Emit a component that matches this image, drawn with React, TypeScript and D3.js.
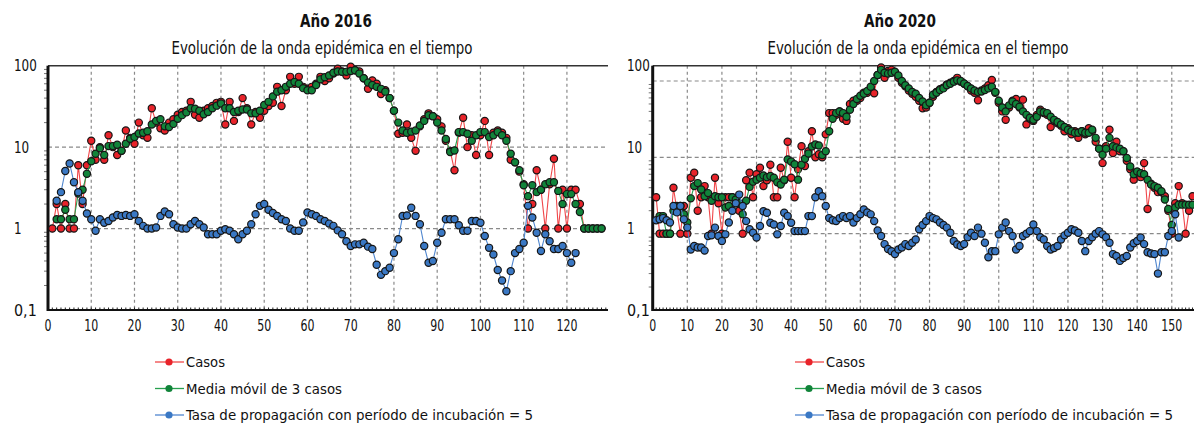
import React, { useEffect, useRef } from 'react'
import * as d3 from 'd3'

// ---- data ----
// 2016: casos from day 1, media movil from day 2, tasa from day 2
const casos2016 = [
    1, 2, 1, 2, 1, 1, 6, 2, 6, 12,
    7, 10, 7, 14, 10, 8, 9, 16, 13, 11,
    20, 14, 13, 30, 20, 17, 16, 20, 22, 25,
    27, 28, 36, 25, 23, 28, 30, 32, 35, 36,
    19, 36, 21, 27, 40, 30, 19, 27, 23, 28,
    32, 35, 55, 32, 50, 73, 60, 73, 55, 52,
    55, 60, 73, 65, 70, 80, 92, 85, 76, 97,
    88, 85, 70, 52, 66, 60, 45, 50, 40, 28,
    14.6, 15, 19, 13, 9, 18, 22, 26, 24, 22,
    18, 12, 9, 5.2, 15, 23, 10, 14, 8, 14,
    21, 8, 15, 16, 15, 13, 7, 6.5, 5, 3.5,
    1, 2, 5.2, 3, 1, 3.5, 7.2, 1, 3, 1,
    3, 3, 2, 1, 1, 1, 1, 1
];
const media2016 = [
    1.3, 1.3, 1.7, 1.3, 1.3, 2.7, 3, 4.7, 6.7,
    8.3, 9.7, 8, 10.3, 10.3, 10.7, 9, 11, 12.7, 13.3,
    14.7, 15, 15.7, 19, 21, 22, 18, 17.7, 19.3, 22.3,
    24.7, 26.7, 30, 29.7, 28, 25.3, 27, 30, 32.3, 34.3,
    30, 30, 27, 28, 29, 29, 26, 26, 28, 33,
    36, 42, 48, 50, 55, 60, 63, 60, 53, 50,
    50, 58, 68, 72, 76, 82, 85, 84, 84, 86,
    88, 80, 70, 62, 58, 55, 52, 48, 40, 28,
    20, 16, 15, 15.5, 16, 18.5, 21, 24.6, 24, 20,
    16, 12.6, 8.7, 9.1, 15.3, 15.3, 14.6, 12, 14, 15.3,
    15.3, 13.3, 14, 15.3, 14, 12, 8.3, 6.5, 5.2, 3.4,
    2.5, 3.4, 2.8, 3.0, 3.5, 3.7, 3.7, 2.9, 2.0, 2.65,
    2.65, 2.0, 1.6, 1, 1, 1, 1, 1
];
const tasa2016 = [
    2.2, 2.8, 5.1, 6.3, 3.7, 2.8, 2.2, 1.53, 1.3,
    0.94, 1.3, 1.18, 1.24, 1.37, 1.47, 1.43, 1.47, 1.43, 1.5,
    1.24, 1.08, 1.0, 1.0, 1.03, 1.43, 1.62, 1.5, 1.13, 1.03,
    1.0, 1.0, 1.13, 1.24, 1.13, 1.03, 0.85, 0.85, 0.85, 0.94,
    0.98, 0.94, 0.85, 0.74, 0.85, 0.94, 1.13, 1.5, 1.9, 2.0,
    1.7, 1.55, 1.43, 1.3, 1.24, 1.0, 0.94, 0.94, 1.19, 1.58,
    1.5, 1.43, 1.3, 1.24, 1.15, 1.08, 0.95, 0.85, 0.7, 0.61,
    0.64, 0.64, 0.67, 0.6, 0.56, 0.36, 0.27, 0.3, 0.33, 0.5,
    0.74, 1.43, 1.45, 1.8, 1.43, 1.13, 0.61, 0.38, 0.4, 0.67,
    0.89, 1.3, 1.3, 1.3, 1.1, 0.94, 0.94, 1.24, 1.24, 1.18,
    0.81, 0.58, 0.48, 0.31, 0.23, 0.17, 0.3, 0.5, 0.56, 0.67,
    1.9, 1.37, 0.89, 0.53, 0.85, 0.7, 0.56, 0.56, 0.61, 0.5,
    0.38, 0.5
];

// 2020: casos from day 1, media movil from day 2, tasa from day 1
const casos2020 = [
    3, 1, 1, 1, 1, 4, 2, 1, 2.3, 1,
    5.4, 6.3, 2, 3, 4.2, 3, 1, 5.4, 2.5, 1,
    3, 3, 3, 2.5, 2, 1, 5, 6.3, 3, 6,
    7.3, 4.2, 5, 8, 3, 3, 7.3, 5, 16, 5.4,
    3, 7, 14, 7.7, 12, 22, 10, 11, 10, 20,
    38, 38, 36, 40, 32, 30, 50, 55, 55, 60,
    70, 70, 80, 69, 120, 150, 110, 135, 140, 130,
    110, 95, 85, 75, 68, 62, 55, 44, 45, 52,
    62, 72, 78, 82, 90, 95, 100, 110, 98, 92,
    85, 75, 70, 56, 75, 80, 88, 103, 70, 52,
    40, 31, 45, 55, 58, 45, 57, 27, 32, 30,
    36, 42, 38, 36, 25, 30, 28, 26, 22, 24,
    20, 22, 18, 22, 20, 24, 22, 16, 13, 8.4,
    14, 23, 11.4, 16, 12, 12, 9, 7, 5.1, 6.5,
    5.5, 8.4, 2.1, 4.5, 4, 3.5, 3.5, 3.1, 2, 1,
    2.5, 4.2, 2.5, 1, 2, 3.1
];
const media2020 = [
    1.7, 1.7, 1, 1, 2, 2.3, 2.3, 1.8, 1.4,
    2.9, 4.2, 4.6, 3.8, 3.1, 3.4, 2.7, 3.1, 3, 3,
    2.2, 2.3, 3, 2.8, 2.5, 1.8, 2.7, 4.1, 4.8, 5.1,
    5.4, 5.8, 5.5, 5.7, 5.4, 4.7, 4.4, 5.1, 9.4, 8.8,
    8.1, 5.1, 8, 9.6, 11.2, 13.9, 14.7, 14.3, 10.7, 12,
    22, 32, 38, 40, 38, 34, 42, 50, 58, 64,
    68, 74, 84, 100, 120, 140, 128, 125, 128, 132,
    118, 100, 88, 80, 72, 68, 60, 54, 48, 52,
    66, 70, 76, 80, 88, 92, 98, 102, 100, 93,
    86, 80, 75, 72, 73, 76, 80, 84, 72, 55,
    45, 40, 48, 54, 50, 46, 40, 36, 33, 31,
    34, 40, 39, 38, 34, 31, 29, 27, 25, 23,
    22, 21, 21, 22, 21, 21, 23, 18, 13, 10.8,
    13, 18, 14, 13.5, 13, 12, 9.8, 7.6, 6, 6.5,
    6.2, 6, 5.1, 4.4, 4.2, 4, 3.6, 2.8, 2.1, 1.3,
    2.2, 2.4, 2.4, 2.4, 2.4, 2.4
];
const tasa2020 = [
    1.5, 1.54, 1.6, 1.5, 1.4, 2.3, 1.9, 2.3, 1.54, 1.2,
    0.62, 0.69, 0.66, 0.66, 0.6, 0.93, 0.95, 1.2, 0.93, 0.8,
    0.98, 1.4, 2.0, 2.5, 3.25, 2.3, 1.46, 1.14, 1.03, 0.89,
    1.26, 1.97, 1.88, 1.39, 1.32, 0.98, 1.26, 1.88, 1.7, 1.39,
    1.08, 1.08, 1.08, 1.08, 1.7, 1.7, 3.0, 3.6, 3.1, 2.3,
    1.6, 1.5, 1.46, 1.6, 1.7, 1.6, 1.7, 1.4, 1.6, 1.8,
    2.08, 1.9, 1.79, 1.46, 1.1, 0.93, 0.73, 0.63, 0.59, 0.54,
    0.62, 0.66, 0.73, 0.69, 0.76, 0.84, 1.14, 1.3, 1.46, 1.7,
    1.6, 1.54, 1.4, 1.3, 1.2, 1.03, 0.8, 0.72, 0.69, 0.73,
    0.9, 1.03, 0.93, 1.2, 1.0, 0.76, 0.49, 0.59, 0.59, 0.98,
    1.2, 1.4, 1.08, 0.93, 0.62, 0.69, 0.93, 1.0, 1.08, 1.32,
    1.08, 0.9, 0.84, 0.69, 0.62, 0.65, 0.69, 0.84, 0.95, 1.03,
    1.14, 1.1, 1.03, 0.8, 0.59, 0.8, 0.9, 1.0, 1.08, 0.98,
    0.9, 0.76, 0.54, 0.51, 0.44, 0.48, 0.51, 0.66, 0.75, 0.8,
    0.89, 0.73, 0.57, 0.55, 0.54, 0.3, 0.57, 0.57, 0.93, 1.08,
    1.8, 0.89
];

const xTicks2016 = [0, 10, 20, 30, 40, 50, 60, 70, 80, 90, 100, 110, 120];
const xTicks2020 = [0, 10, 20, 30, 40, 50, 60, 70, 80, 90, 100, 110, 120, 130, 140, 150];
const yTickValues = [100, 10, 1, 0.1];
const yTickLabels = ['100', '10', '1', '0,1'];
const legendLabels = ['Casos', 'Media móvil de 3 casos', 'Tasa de propagación con período de incubación = 5'];
const subtitle = 'Evolución de la onda epidémica en el tiempo';

const lineColors = ['#f0474a', '#27a04e', '#4f86cf'];
const dotColors = ['#e8232a', '#11843a', '#3a78c4'];
const legendWidths = [39, 156, 347];   //widths of the condensed legend texts
const FONT = '"Liberation Sans Narrow", "DejaVu Sans Condensed", "Liberation Sans", sans-serif';

const panels = [
    {
        title: 'Año 2016', titleX: 336, subX: 322,
        x0: 48, x1: 608, xMax: 129.5, xTicks: xTicks2016,
        yTop: 65.7, y100: 65.7, labelX: 14, legendX: 155,
        series: [
            { values: casos2016, start: 1 },
            { values: media2016, start: 2 },
            { values: tasa2016, start: 2 }
        ]
    },
    {
        title: 'Año 2020', titleX: 900, subX: 918,
        x0: 652.7, x1: 1196, xMax: 157, xTicks: xTicks2020,
        yTop: 65.7, y100: 81, labelX: 627, legendX: 795,
        series: [
            { values: casos2020, start: 1 },
            { values: media2020, start: 2 },
            { values: tasa2020, start: 1 }
        ]
    }
];

const yBottom = 310;

export default function App() {
    let ref = useRef<SVGSVGElement>(null);

    useEffect(() => {
        var svg = d3.select(ref.current);
        svg.selectAll('*').remove();

        //label positions are shared by both panels (as in the original)
        var yLabel = d3.scaleLog().domain([0.1, 100]).range([yBottom, 65.7]);

        panels.forEach(function (p) {
            var x = d3.scaleLinear().domain([0, p.xMax]).range([p.x0, p.x1]);
            var y = d3.scaleLog().domain([0.1, 100]).range([yBottom, p.y100]);
            var g = svg.append('g');

            //titles
            g.append('text').attr('x', p.titleX).attr('y', 27)
                .attr('text-anchor', 'middle').style('font-weight', 'bold')
                .style('font-size', '18px')
                .attr('textLength', 72).attr('lengthAdjust', 'spacingAndGlyphs')
                .text(p.title);
            g.append('text').attr('x', p.subX).attr('y', 54)
                .attr('text-anchor', 'middle').style('font-size', '17px')
                .attr('textLength', 301).attr('lengthAdjust', 'spacingAndGlyphs')
                .text(subtitle);

            //grid
            g.selectAll('.vgrid').data(p.xTicks.filter(d => d > 0)).enter().append('line')
                .attr('x1', d => x(d)).attr('x2', d => x(d))
                .attr('y1', p.yTop).attr('y2', yBottom)
                .style('stroke', '#8a8a8a').style('stroke-width', 1.2).style('stroke-dasharray', '3,3');
            g.selectAll('.hgrid').data(yTickValues.filter(d => y(d) > p.yTop + 1 && d > 0.1)).enter().append('line')
                .attr('x1', p.x0).attr('x2', p.x1)
                .attr('y1', d => y(d)).attr('y2', d => y(d))
                .style('stroke', '#8a8a8a').style('stroke-width', 1.2).style('stroke-dasharray', '4,3');

            //minor ticks on the log axis
            var minors: number[] = [];
            [0.1, 1, 10].forEach(function (dec) {
                for (let k = 2; k < 10; k++) minors.push(dec * k);
            });
            g.selectAll('.minor').data(minors).enter().append('line')
                .attr('x1', p.x0 - 4).attr('x2', p.x0)
                .attr('y1', d => y(d)).attr('y2', d => y(d))
                .style('stroke', '#777').style('stroke-width', 1);

            //unit ticks along the bottom
            g.selectAll('.xminor').data(d3.range(0, Math.floor(p.xMax) + 1)).enter().append('line')
                .attr('x1', d => x(d)).attr('x2', d => x(d))
                .attr('y1', yBottom - 2.5).attr('y2', yBottom + 1)
                .style('stroke', '#222').style('stroke-width', 1);

            //frame
            g.append('line').attr('x1', p.x0).attr('x2', p.x1).attr('y1', p.yTop).attr('y2', p.yTop)
                .style('stroke', '#333').style('stroke-width', 1.5);
            g.append('line').attr('x1', p.x0).attr('x2', p.x1).attr('y1', yBottom).attr('y2', yBottom)
                .style('stroke', '#111').style('stroke-width', 2);
            g.append('line').attr('x1', p.x0).attr('x2', p.x0).attr('y1', p.yTop).attr('y2', yBottom + 1)
                .style('stroke', '#111').style('stroke-width', 3);

            //axis labels
            g.selectAll('.ylab').data(yTickValues).enter().append('text')
                .attr('x', p.labelX).attr('y', d => yLabel(d)).attr('dy', '0.35em')
                .style('font-size', '16px')
                .attr('textLength', (d, i) => yTickLabels[i].length * 7.6)
                .attr('lengthAdjust', 'spacingAndGlyphs')
                .text((d, i) => yTickLabels[i]);
            g.selectAll('.xlab').data(p.xTicks).enter().append('text')
                .attr('x', d => x(d)).attr('y', 331).attr('text-anchor', 'middle')
                .style('font-size', '15px')
                .attr('textLength', d => String(d).length * 7)
                .attr('lengthAdjust', 'spacingAndGlyphs')
                .text(d => d);

            //series
            p.series.forEach(function (s, si) {
                var pts = s.values.map((v, k) => ({ day: s.start + k, v: v }));
                var ln = d3.line<{ day: number, v: number }>().x(d => x(d.day)).y(d => y(d.v));
                g.append('path').datum(pts).attr('d', ln)
                    .style('fill', 'none').style('stroke', lineColors[si]).style('stroke-width', 1.1);
                g.selectAll('.dot' + si).data(pts).enter().append('circle')
                    .attr('cx', d => x(d.day)).attr('cy', d => y(d.v)).attr('r', 3.6)
                    .style('fill', dotColors[si]).style('stroke', '#161616').style('stroke-width', 1.2);
            });

            //legend
            legendLabels.forEach(function (lab, li) {
                var ly = 362 + li * 26.5;
                g.append('line').attr('x1', p.legendX).attr('x2', p.legendX + 29).attr('y1', ly).attr('y2', ly)
                    .style('stroke', lineColors[li]).style('stroke-width', 1.3);
                g.append('circle').attr('cx', p.legendX + 14).attr('cy', ly).attr('r', 3.6)
                    .style('fill', dotColors[li]);
                g.append('text').attr('x', p.legendX + 31).attr('y', ly).attr('dy', '0.35em')
                    .style('font-size', '14.5px')
                    .attr('textLength', legendWidths[li]).attr('lengthAdjust', 'spacingAndGlyphs')
                    .text(lab);
            });
        });
    }, []);

    return (
        <svg ref={ref} width={1194} height={426}
            style={{ position: 'absolute', left: 0, top: 0, background: '#fff', fontFamily: FONT, fill: '#111' }} />
    );
}
